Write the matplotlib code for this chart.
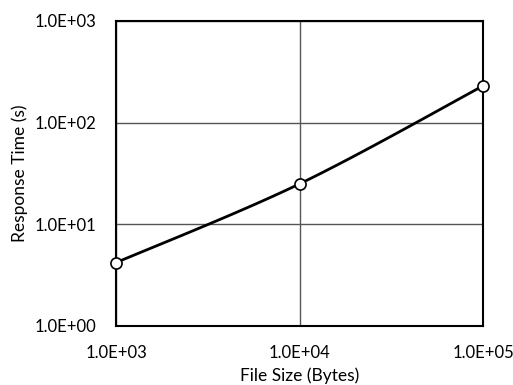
import numpy as np
import matplotlib
matplotlib.use('Agg')
import matplotlib.pyplot as plt
from matplotlib.ticker import FixedLocator, FuncFormatter

plt.rcParams['font.family'] = ['Lato', 'DejaVu Sans']

file_size = [1e3, 1e4, 1e5]
response_time = [4.2, 25.0, 230.0]


def smooth(xs, ys, n=40):
    # Excel-like smoothed line (Catmull-Rom in log space)
    lx, ly = np.log10(xs), np.log10(ys)
    P = np.column_stack([lx, ly])
    P = np.vstack([P[0], P, P[-1]])
    out = []
    for i in range(1, len(P) - 2):
        p0, p1, p2, p3 = P[i - 1], P[i], P[i + 1], P[i + 2]
        c1 = p1 + (p2 - p0) / 6.0
        c2 = p2 - (p3 - p1) / 6.0
        t = np.linspace(0, 1, n)[:, None]
        b = (1 - t) ** 3 * p1 + 3 * (1 - t) ** 2 * t * c1 + 3 * (1 - t) * t ** 2 * c2 + t ** 3 * p2
        out.append(b)
    b = np.vstack(out)
    return 10 ** b[:, 0], 10 ** b[:, 1]


fig = plt.figure(figsize=(5.13, 3.85), dpi=100)
ax = fig.add_axes([116 / 513, 1 - 326 / 385, (483 - 116) / 513, (326 - 21) / 385])

sx, sy = smooth(file_size, response_time)
ax.plot(sx, sy, color='black', lw=2, zorder=3, clip_on=False)
ax.plot(file_size, response_time, 'o', ms=8, mfc='white', mec='black', mew=1.2,
        zorder=4, clip_on=False)

ax.set_xscale('log')
ax.set_yscale('log')
ax.set_xlim(1e3, 1e5)
ax.set_ylim(1e0, 1e3)

fmt = FuncFormatter(lambda v, p: '%.1E' % v)
ax.xaxis.set_major_locator(FixedLocator([1e3, 1e4, 1e5]))
ax.yaxis.set_major_locator(FixedLocator([1e0, 1e1, 1e2, 1e3]))
ax.xaxis.set_minor_locator(FixedLocator([]))
ax.yaxis.set_minor_locator(FixedLocator([]))
ax.xaxis.set_major_formatter(fmt)
ax.yaxis.set_major_formatter(fmt)
ax.tick_params(length=0, labelsize=12, colors='black')
ax.tick_params(axis='x', pad=14)
ax.tick_params(axis='y', pad=14)

ax.grid(True, color='#555555', lw=1)
for s in ax.spines.values():
    s.set_linewidth(1.5)
    s.set_color('black')

ax.set_xlabel('File Size (Bytes)', fontsize=12.5, labelpad=4)
ax.set_ylabel('Response Time (s)', fontsize=12.5, labelpad=5)

fig.savefig('out.png', dpi=100)
